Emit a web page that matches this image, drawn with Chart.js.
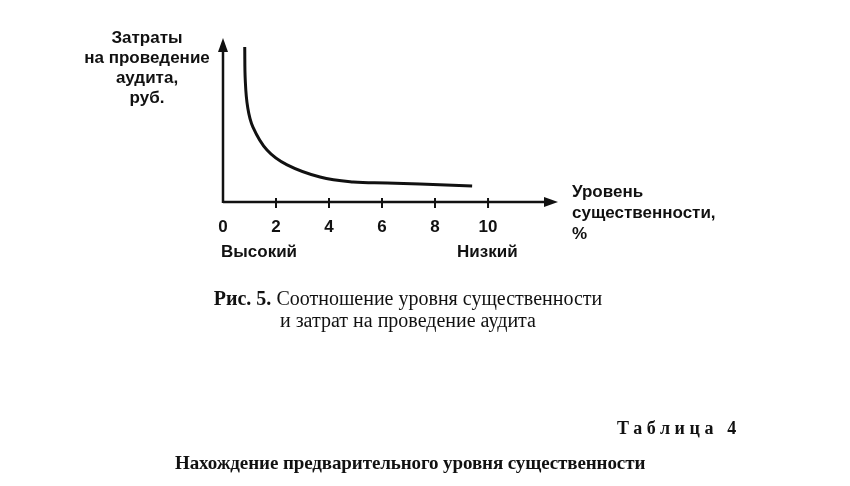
<!DOCTYPE html>
<html>
<head>
<meta charset="utf-8">
<script src="https://cdn.jsdelivr.net/npm/chart.js@4.4.0/dist/chart.umd.min.js"></script>
<style>
  body { margin: 0; background: #fff; }
  #wrap { position: relative; width: 850px; height: 486px; overflow: hidden; }
  #chart { position: absolute; left: 0; top: 0; }
  .lbl { position: absolute; color: #111; white-space: nowrap; }
  .sans { font-family: "Liberation Sans", Arial, sans-serif; font-weight: bold; font-size: 17px; }
  .serif { font-family: "Liberation Serif", "Times New Roman", serif; font-size: 20px; }
</style>
</head>
<body>
<div id="wrap">
  <canvas id="chart" width="850" height="486"></canvas>

  <div class="lbl sans" style="left:67px; top:28px; width:160px; text-align:center; line-height:20px;">Затраты<br>на проведение<br>аудита,<br>руб.</div>
  <div class="lbl sans" style="left:572px; top:181px; line-height:21px;">Уровень<br>существенности,<br>%</div>
  <div class="lbl sans" style="left:221px; top:242px; line-height:20px;">Высокий</div>
  <div class="lbl sans" style="left:457px; top:242px; line-height:20px;">Низкий</div>

  <div class="lbl serif" style="left:158px; top:287px; width:500px; text-align:center; line-height:22px;"><b>Рис. 5.</b> Соотношение уровня существенности<br>и затрат на проведение аудита</div>

  <div class="lbl serif" style="left:617px; top:417px; line-height:22px; font-size:18px; font-weight:bold; letter-spacing:4.6px;">Таблица 4</div>
  <div class="lbl serif" style="left:175px; top:452px; line-height:22px; font-size:19px; font-weight:bold; letter-spacing:-0.1px;">Нахождение предварительного уровня существенности</div>
</div>

<script>
// data
let levels = [0.82, 0.84, 0.93, 1.13, 1.66, 2.42, 3.66, 4.91, 6.19, 7.43, 9.40]; // уровень существенности, %
let costs = [9.45, 7.44, 5.79, 4.57, 3.17, 2.26, 1.52, 1.22, 1.16, 1.10, 0.98]; // затраты, условные единицы
let tickValues = [0, 2, 4, 6, 8, 10];

let points = [];
levels.forEach(function(x, i) {
    points.push({ x: x, y: costs[i] });
});

// axes with arrows and crossing tick marks
const axesPlugin = {
    id: 'axesPlugin',
    afterDraw: function(chart) {
        const ctx = chart.ctx;
        const xs = chart.scales.x;
        const ys = chart.scales.y;
        const x0 = xs.getPixelForValue(0);
        const y0 = ys.getPixelForValue(0);
        const xEnd = chart.chartArea.right;
        const yEnd = chart.chartArea.top;
        ctx.save();
        ctx.strokeStyle = '#111';
        ctx.fillStyle = '#111';
        ctx.lineWidth = 2.5;
        ctx.beginPath();
        ctx.moveTo(x0, y0);
        ctx.lineTo(xEnd - 10, y0);
        ctx.moveTo(x0, y0 + 1);
        ctx.lineTo(x0, yEnd + 10);
        ctx.stroke();
        // arrow heads
        ctx.beginPath();
        ctx.moveTo(xEnd, y0);
        ctx.lineTo(xEnd - 14, y0 - 5);
        ctx.lineTo(xEnd - 14, y0 + 5);
        ctx.closePath();
        ctx.fill();
        ctx.beginPath();
        ctx.moveTo(x0, yEnd);
        ctx.lineTo(x0 - 5, yEnd + 14);
        ctx.lineTo(x0 + 5, yEnd + 14);
        ctx.closePath();
        ctx.fill();
        // tick marks
        ctx.lineWidth = 2;
        tickValues.forEach(function(v) {
            if (v === 0) return;
            const px = xs.getPixelForValue(v);
            ctx.beginPath();
            ctx.moveTo(px, y0 - 4);
            ctx.lineTo(px, y0 + 6);
            ctx.stroke();
        });
        ctx.restore();
    }
};

new Chart(document.getElementById('chart'), {
    type: 'scatter',
    data: {
        datasets: [{
            data: points,
            showLine: true,
            borderColor: '#111',
            borderWidth: 3,
            pointRadius: 0,
            tension: 0.4,
            fill: false
        }]
    },
    options: {
        responsive: false,
        animation: false,
        layout: { padding: { left: 223, right: 292, top: 38, bottom: 241.6 } },
        plugins: { legend: { display: false }, tooltip: { enabled: false } },
        scales: {
            x: {
                type: 'linear',
                min: 0,
                max: 12.64,
                grid: { display: false },
                border: { display: false },
                afterBuildTicks: function(scale) {
                    scale.ticks = tickValues.map(function(v) { return { value: v }; });
                },
                ticks: {
                    padding: 7,
                    color: '#111',
                    maxRotation: 0,
                    font: { family: 'Liberation Sans', weight: 'bold', size: 17, lineHeight: 1.2 }
                }
            },
            y: {
                display: false,
                min: 0,
                max: 10
            }
        }
    },
    plugins: [axesPlugin]
});
</script>
</body>
</html>
